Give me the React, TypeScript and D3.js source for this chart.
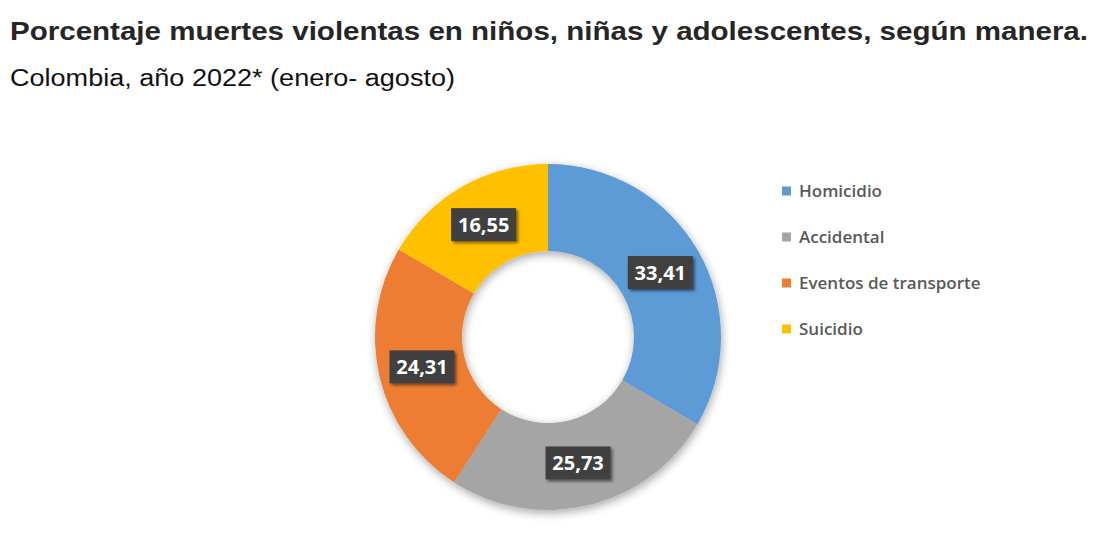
import React, { useEffect, useRef } from "react";
import * as d3 from "d3";

const categories = ["Homicidio", "Accidental", "Eventos de transporte", "Suicidio"];
const values = [33.41, 25.73, 24.31, 16.55];
const valueLabels = ["33,41", "25,73", "24,31", "16,55"];
const colors = ["#5B9BD5", "#A5A5A5", "#ED7D31", "#FFC000"];
const title = "Porcentaje muertes violentas en niños, niñas y adolescentes, según manera.";
const subtitle = "Colombia, año 2022* (enero- agosto)";

type Row = { name: string; value: number; label: string; color: string };
const data: Row[] = categories.map((c, i) => ({ name: c, value: values[i], label: valueLabels[i], color: colors[i] }));

export default function App() {
  const ref = useRef<SVGSVGElement | null>(null);

  useEffect(() => {
    const svg = d3.select(ref.current);
    svg.selectAll("*").remove();

    const defs = svg.append("defs");
    const f = defs.append("filter").attr("id", "shadow").attr("x", "-20%").attr("y", "-20%").attr("width", "140%").attr("height", "140%");
    f.append("feGaussianBlur").attr("in", "SourceAlpha").attr("stdDeviation", 5).attr("result", "b");
    f.append("feOffset").attr("in", "b").attr("dx", 1).attr("dy", 3).attr("result", "o");
    f.append("feComponentTransfer").attr("in", "o").attr("result", "o2").append("feFuncA").attr("type", "linear").attr("slope", 0.35);
    const m = f.append("feMerge");
    m.append("feMergeNode").attr("in", "o2");
    m.append("feMergeNode").attr("in", "SourceGraphic");

    const fb = defs.append("filter").attr("id", "boxshadow").attr("x", "-30%").attr("y", "-30%").attr("width", "160%").attr("height", "160%");
    fb.append("feGaussianBlur").attr("in", "SourceAlpha").attr("stdDeviation", 1.5).attr("result", "b");
    fb.append("feOffset").attr("in", "b").attr("dx", 2).attr("dy", 2).attr("result", "o");
    fb.append("feComponentTransfer").attr("in", "o").attr("result", "o2").append("feFuncA").attr("type", "linear").attr("slope", 0.5);
    const mb = fb.append("feMerge");
    mb.append("feMergeNode").attr("in", "o2");
    mb.append("feMergeNode").attr("in", "SourceGraphic");

    svg.append("rect").attr("width", 1102).attr("height", 552).attr("fill", "#ffffff");

    svg.append("text").attr("x", 10).attr("y", 40)
      .attr("font-family", "'Liberation Sans', Arial, sans-serif").attr("font-weight", "bold")
      .attr("font-size", 25.5).attr("fill", "#262626")
      .attr("textLength", 1078).attr("lengthAdjust", "spacingAndGlyphs").text(title);
    svg.append("text").attr("x", 10).attr("y", 86)
      .attr("font-family", "'Liberation Sans', Arial, sans-serif")
      .attr("font-size", 23.5).attr("fill", "#111111")
      .attr("textLength", 445).attr("lengthAdjust", "spacingAndGlyphs").text(subtitle);

    const cx = 548, cy = 337, rOuter = 173, rInner = 86;
    const pie = d3.pie<Row>().value((d) => d.value).sort(null);
    const arc = d3.arc<d3.PieArcDatum<Row>>().innerRadius(rInner).outerRadius(rOuter);
    const arcs = pie(data);

    const g = svg.append("g").attr("transform", `translate(${cx},${cy})`);
    const slices = g.append("g").attr("filter", "url(#shadow)");
    slices.selectAll("path").data(arcs).enter().append("path")
      .attr("d", arc as any).attr("fill", (d) => d.data.color);

    const lab = g.selectAll("g.lab").data(arcs).enter().append("g").attr("class", "lab")
      .attr("transform", (d) => { const [x, y] = arc.centroid(d); return `translate(${x},${y})`; });
    lab.append("rect").attr("x", -32.5).attr("y", -16.5).attr("width", 65).attr("height", 33)
      .attr("fill", "#404040").attr("filter", "url(#boxshadow)");
    lab.append("text").attr("text-anchor", "middle").attr("dy", "0.36em")
      .attr("font-family", "'Open Sans', sans-serif").attr("font-weight", "bold")
      .attr("font-size", 20).attr("fill", "#ffffff").text((d) => d.data.label);

    const ly = d3.scalePoint<string>().domain(categories).range([191, 329]);
    const leg = svg.append("g").selectAll("g").data(data).enter().append("g")
      .attr("transform", (d) => `translate(782,${ly(d.name)})`);
    leg.append("rect").attr("x", 0).attr("y", -4.5).attr("width", 9).attr("height", 9).attr("fill", (d) => d.color);
    leg.append("text").attr("x", 17).attr("dy", "0.36em")
      .attr("font-family", "'Open Sans', sans-serif").attr("font-weight", 600)
      .attr("font-size", 17).attr("fill", "#595959").text((d) => d.name);
  }, []);

  return (
    <svg ref={ref} width={1102} height={552}
      style={{ position: "absolute", left: 0, top: 0, display: "block" }} />
  );
}
